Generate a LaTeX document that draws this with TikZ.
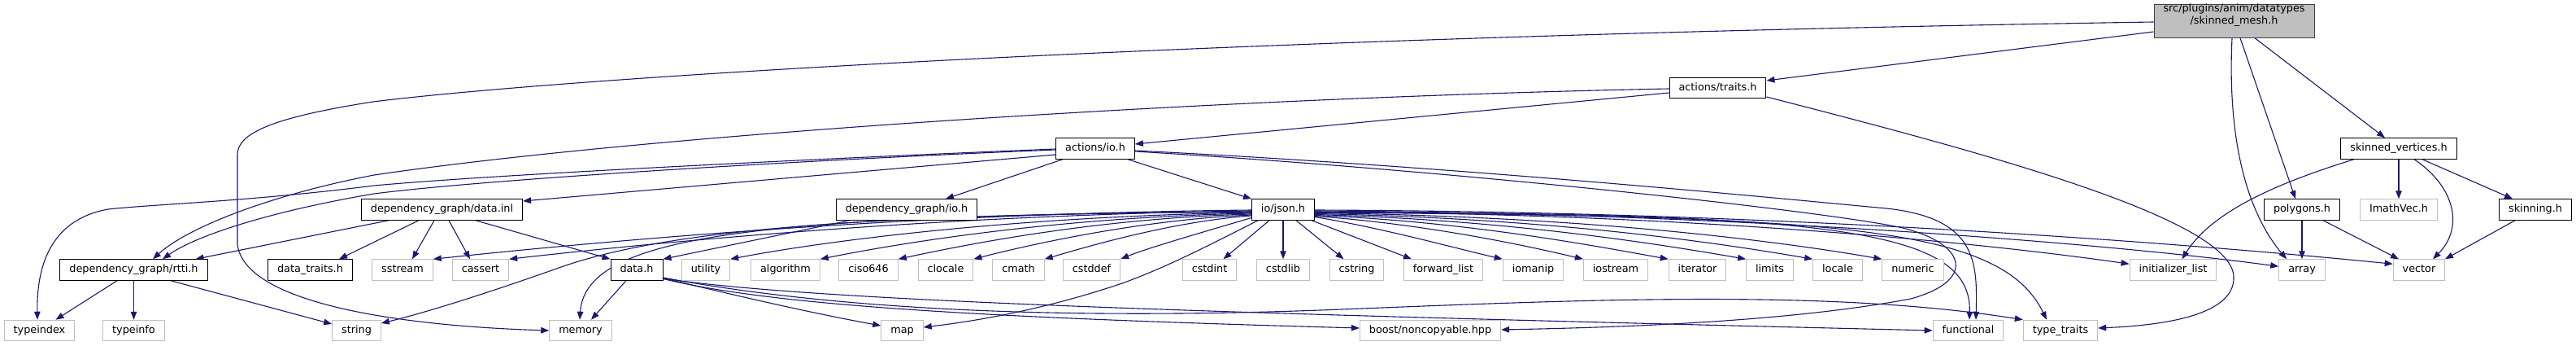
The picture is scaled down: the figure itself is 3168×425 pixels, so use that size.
\documentclass[tikz,border=0pt]{standalone}
\usepackage{fontspec}
\newfontfamily\dvs{DejaVu Sans}
\usetikzlibrary{arrows.meta,backgrounds}
\definecolor{edgeblue}{HTML}{191970}
\definecolor{greyborder}{HTML}{BFBFBF}
\definecolor{rootfill}{HTML}{BFBFBF}
\definecolor{darkborder}{HTML}{404040}
\newcommand\gfont{\dvs\fontsize{12.8}{15}\selectfont}
\begin{document}
\begin{tikzpicture}[x=1pt,y=-1pt,
  doc/.style={draw=black, line width=1pt, fill=white, font=\gfont, inner xsep=11.5pt, inner ysep=0pt, minimum height=25.5pt, text height=9.6pt, text depth=2.8pt},
  ext/.style={doc, draw=greyborder},
  rootn/.style={doc, fill=rootfill, draw=darkborder, minimum height=40.5pt, align=center},
  dep/.style={draw=edgeblue, line width=1.1pt, -{Triangle[length=10pt,width=7.5pt]}}]
\path[use as bounding box] (0,0) rectangle (3168,425);
% row 0-3
\node[rootn] (sm) at (2747.5,26) {src/plugins/anim/datatypes\\/skinned\_mesh.h};
\node[doc] (traits) at (2112.5,108) {actions/traits.h};
\node[doc] (aio) at (1347,182.5) {actions/io.h};
\node[doc] (sv) at (2950,182.5) {skinned\_vertices.h};
\node[doc] (datainl) at (543.5,257.5) {dependency\_graph/data.inl};
\node[doc] (dgio) at (1115,257.5) {dependency\_graph/io.h};
\node[doc] (json) at (1578,257.5) {io/json.h};
\node[doc] (polygons) at (2831,257.5) {polygons.h};
\node[ext] (imath) at (2950,257.5) {ImathVec.h};
\node[doc] (skinning) at (3118,257.5) {skinning.h};
% row 4
\node[doc] (rtti) at (164.5,331.5) {dependency\_graph/rtti.h};
\node[doc] (datatraits) at (381.5,331.5) {data\_traits.h};
\node[ext] (sstream) at (495,331.5) {sstream};
\node[ext] (cassert) at (591,331.5) {cassert};
\node[doc] (datah) at (783,331.5) {data.h};
\node[ext] (utility) at (868,331.5) {utility};
\node[ext] (algorithm) at (966,331.5) {algorithm};
\node[ext] (ciso) at (1068,331.5) {ciso646};
\node[ext] (clocale) at (1163,331.5) {clocale};
\node[ext] (cmath) at (1252.5,331.5) {cmath};
\node[ext] (cstddef) at (1342.5,331.5) {cstddef};
\node[ext] (cstdint) at (1487.5,331.5) {cstdint};
\node[ext] (cstdlib) at (1578,331.5) {cstdlib};
\node[ext] (cstring) at (1668.5,331.5) {cstring};
\node[ext] (fwdlist) at (1775,331.5) {forward\_list};
\node[ext] (iomanip) at (1885.5,331.5) {iomanip};
\node[ext] (iostream) at (1987,331.5) {iostream};
\node[ext] (iterator) at (2087.5,331.5) {iterator};
\node[ext] (limits) at (2176.5,331.5) {limits};
\node[ext] (locale) at (2260,331.5) {locale};
\node[ext] (numeric) at (2352.5,331.5) {numeric};
\node[ext] (initlist) at (2672.5,331.5) {initializer\_list};
\node[ext] (array) at (2831,331.5) {array};
\node[ext] (vector) at (2975,331.5) {vector};
% row 5
\node[ext] (typeindex) at (48.5,406) {typeindex};
\node[ext] (typeinfo) at (164.5,406) {typeinfo};
\node[ext] (string) at (438.5,406) {string};
\node[ext] (memory) at (714,406) {memory};
\node[ext] (map) at (1109.5,406) {map};
\node[ext] (boost) at (1759,406) {boost/noncopyable.hpp};
\node[ext] (functional) at (2420.5,406) {functional};
\node[ext] (typetraits) at (2534,406) {type\_traits};

\begin{pgfonlayer}{background}
% root
\draw[dep] ([yshift=-1pt]sm.west) .. controls (1500,45) and (700,95) .. (459,125) .. controls (330,145) and (292,165) .. (292,190) -- (292,300) .. controls (300,370) and (480,400) .. (memory.west);
\draw[dep] ([yshift=-13pt]sm.west) -- ([yshift=9pt]traits.east);
\draw[dep] ([xshift=-2.5pt]sm.south) .. controls (2740,150) and (2755,250) .. ([xshift=-19pt]array.north);
\draw[dep] ([xshift=7.5pt]sm.south) -- ([xshift=-8pt]polygons.north);
\draw[dep] ([xshift=25.5pt]sm.south) -- ([xshift=-17pt]sv.north);
% actions/traits.h
\draw[dep] ([yshift=-1pt]traits.west) .. controls (1500,120) and (800,165) .. (460,215) .. controls (330,240) and (230,280) .. ([xshift=23.5pt]rtti.north);
\draw[dep] ([yshift=-6pt]traits.west) -- ([yshift=5.5pt]aio.east);
\draw[dep] ([yshift=-11pt]traits.east) .. controls (2450,190) and (2745,270) .. (2747,340) .. controls (2749,390) and (2650,400) .. ([yshift=3pt]typetraits.east);
% actions/io.h
\draw[dep] ([yshift=-1.5pt]aio.west) .. controls (1000,196) and (600,220) .. (460,238) .. controls (330,260) and (240,290) .. ([xshift=35.5pt]rtti.north);
\draw[dep] ([yshift=-0.5pt]aio.west) .. controls (1000,195) and (600,215) .. (460,228) .. controls (300,248) and (200,250) .. (133,257) .. controls (60,270) and (45,330) .. ([xshift=-2.5pt]typeindex.north);
\draw[dep] ([yshift=-7.5pt]aio.west) -- ([yshift=10.5pt]datainl.east);
\draw[dep] ([xshift=-40pt]aio.south) -- ([xshift=48pt]dgio.north);
\draw[dep] ([xshift=40pt]aio.south) -- (json.north west);
\draw[dep] ([yshift=-2.5pt]aio.east) .. controls (1800,205) and (2200,245) .. (2320,256) .. controls (2430,268) and (2432,320) .. ([xshift=9.5pt]functional.north);
\draw[dep] ([yshift=-3.5pt]aio.east) .. controls (1800,210) and (2250,260) .. (2340,280) .. controls (2420,300) and (2430,345) .. (2350,367) .. controls (2200,395) and (2000,402) .. ([yshift=1pt]boost.east);
% dependency_graph/data.inl
\draw[dep] ([xshift=-65.5pt]datainl.south) -- ([xshift=-15pt]rtti.north east);
\draw[dep] ([xshift=-28.5pt]datainl.south) -- ([xshift=35.5pt]datatraits.north);
\draw[dep] ([xshift=-9.5pt]datainl.south) -- ([xshift=12pt]sstream.north);
\draw[dep] ([xshift=8.5pt]datainl.south) -- ([xshift=-13pt]cassert.north);
\draw[dep] ([xshift=41.5pt]datainl.south) -- (datah.north west);
% dependency_graph/io.h
\draw[dep] ([xshift=-70pt]dgio.south) -- (datah.north east);
% data.h
\draw[dep] ([xshift=-13pt]datah.south) -- ([xshift=13pt]memory.north);
\draw[dep] ([yshift=-10pt]datah.east) .. controls (900,362) and (1000,385) .. ([yshift=6pt]map.west);
\draw[dep] ([yshift=-11pt]datah.east) .. controls (950,375) and (1200,390) .. ([yshift=3pt]boost.west);
\draw[dep] ([yshift=-10.5pt]datah.east) .. controls (1000,370) and (1500,385) .. (functional.west);
\draw[dep] ([yshift=-9.5pt]datah.east) .. controls (1050,385) and (1350,392) .. (1650,380) .. controls (1950,368) and (2250,355) .. (typetraits.north west);
% rtti.h
\draw[dep] ([xshift=-20.5pt]rtti.south) -- ([xshift=20pt]typeindex.north);
\draw[dep] (rtti.south) -- (typeinfo.north);
\draw[dep] ([xshift=45.5pt]rtti.south) -- ([yshift=8pt]string.west);
% io/json.h left
\draw[dep] ([yshift=-0.5pt]json.west) .. controls (1150,262) and (800,290) .. (sstream.north east);
\draw[dep] ([yshift=-1.5pt]json.west) .. controls (1180,264) and (850,293) .. (cassert.north east);
\draw[dep] ([yshift=-3pt]json.west) .. controls (1000,262) and (800,290) .. (690,328) .. controls (600,360) and (520,385) .. ([yshift=9pt]string.east);
\draw[dep] ([yshift=-2.5pt]json.west) .. controls (950,265) and (720,285) .. ([xshift=-1pt]memory.north);
\draw[dep] ([yshift=-3.5pt]json.west) .. controls (1250,266) and (1020,295) .. (utility.north east);
\draw[dep] ([yshift=-4.5pt]json.west) .. controls (1300,267) and (1110,298) .. (algorithm.north east);
\draw[dep] ([yshift=-5.5pt]json.west) .. controls (1350,268) and (1190,300) .. (ciso.north east);
\draw[dep] ([yshift=-6.5pt]json.west) .. controls (1400,270) and (1260,302) .. (clocale.north east);
\draw[dep] ([yshift=-7.5pt]json.west) .. controls (1440,272) and (1330,305) .. (cmath.north east);
\draw[dep] ([yshift=-10pt]json.west) .. controls (1480,285) and (1410,305) .. (cstddef.north east);
\draw[dep] ([xshift=-31pt]json.south) .. controls (1480,305) and (1430,330) .. (1380,348) .. controls (1300,375) and (1220,392) .. ([yshift=4pt]map.east);
% io/json.h bottom
\draw[dep] ([xshift=-17pt]json.south) -- ([xshift=17pt]cstdint.north);
\draw[dep] (json.south) -- (cstdlib.north);
\draw[dep] ([xshift=16pt]json.south) -- ([xshift=-16pt]cstring.north);
\draw[dep] ([xshift=35pt]json.south) -- ([xshift=-39pt]fwdlist.north);
% io/json.h right
\draw[dep] ([yshift=-9pt]json.east) .. controls (1700,280) and (1790,305) .. (iomanip.north west);
\draw[dep] ([yshift=-8pt]json.east) .. controls (1750,275) and (1870,300) .. (iostream.north west);
\draw[dep] ([yshift=-7pt]json.east) .. controls (1800,272) and (1950,300) .. (iterator.north west);
\draw[dep] ([yshift=-6pt]json.east) .. controls (1850,270) and (2030,298) .. (limits.north west);
\draw[dep] ([yshift=-5pt]json.east) .. controls (1900,268) and (2100,296) .. (locale.north west);
\draw[dep] ([yshift=-4pt]json.east) .. controls (1950,266) and (2180,295) .. (numeric.north west);
\draw[dep] ([yshift=-2.5pt]json.east) .. controls (2100,263) and (2450,300) .. ([yshift=-6pt]initlist.north west);
\draw[dep] ([yshift=-1.5pt]json.east) .. controls (2150,262) and (2600,300) .. ([yshift=-9pt]array.north west);
\draw[dep] ([yshift=-0.5pt]json.east) .. controls (2200,260) and (2700,300) .. ([yshift=-6pt]vector.north west);
\draw[dep] ([yshift=-3pt]json.east) .. controls (2250,262) and (2425,280) .. ([xshift=1.5pt]functional.north);
\draw[dep] ([yshift=-3.5pt]json.east) .. controls (2250,266) and (2460,275) .. ([xshift=-17pt]typetraits.north);
% skinned_vertices.h, polygons.h, skinning.h
\draw[dep] ([xshift=-55pt]sv.south) .. controls (2800,225) and (2720,260) .. ([xshift=11pt]initlist.north);
\draw[dep] (sv.south) -- (imath.north);
\draw[dep] ([xshift=19pt]sv.south) .. controls (3020,230) and (3030,280) .. ([xshift=17pt]vector.north);
\draw[dep] ([xshift=29pt]sv.south) -- ([xshift=-28pt]skinning.north);
\draw[dep] (polygons.south) -- (array.north);
\draw[dep] ([xshift=26pt]polygons.south) -- ([xshift=-25pt]vector.north);
\draw[dep] ([xshift=-25pt]skinning.south) -- ([xshift=32pt]vector.north);
\end{pgfonlayer}
\end{tikzpicture}
\end{document}
